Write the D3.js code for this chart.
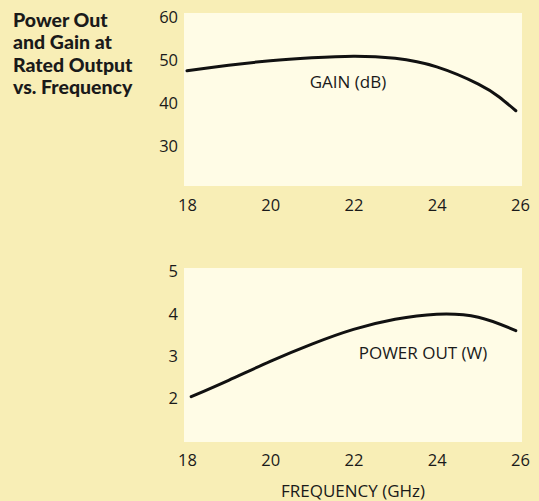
<!DOCTYPE html>
<html>
<head>
<meta charset="utf-8">
<title>Power Out and Gain vs. Frequency</title>
<script src="https://cdn.jsdelivr.net/npm/d3@7"></script>
<style>
  body { margin: 0; background: #f8eeb6; }
  svg { display: block; }
  text { font-family: "Open Sans", Lato, sans-serif; fill: #1a1a1a; }
</style>
</head>
<body>
<script>
// data
var freqTicks = [18, 20, 22, 24, 26];
var gainTicks = [30, 40, 50, 60];
var powerTicks = [2, 3, 4, 5];

var gainFreq  = [18, 19, 20, 21, 22, 23, 24, 25, 25.5, 25.9];
var gainDb    = [47.5, 48.8, 49.8, 50.5, 50.9, 50.4, 48.4, 44.4, 41.4, 38.2];

var powerFreq = [18.1, 19, 20, 21, 22, 23, 24, 25, 25.9];
var powerW    = [2.03, 2.42, 2.87, 3.28, 3.63, 3.87, 3.99, 3.92, 3.6];

var titleLines = ["Power Out", "and Gain at", "Rated Output", "vs. Frequency"];

var W = 539, H = 501;
var svg = d3.select("body").append("svg").attr("width", W).attr("height", H);

svg.append("rect").attr("width", W).attr("height", H).attr("fill", "#f8eeb6");

// title block
svg.append("g").selectAll("text")
    .data(titleLines)
    .enter().append("text")
    .attr("x", 13)
    .attr("y", function(d, i) { return 20 + i * 22.4; })
    .attr("dy", "0.35em")
    .style("font-family", "Lato, sans-serif")
    .style("font-weight", "900")
    .style("font-size", "19.5px")
    .text(function(d) { return d; });

var x = d3.scaleLinear().domain([18, 26]).range([187, 520]);

function panel(top, bottom, yDomain, yRange, yTicks, xLabelY, fx, fy, label, lx, ly) {
  var y = d3.scaleLinear().domain(yDomain).range(yRange);

  svg.append("rect")
     .attr("x", 184).attr("y", top)
     .attr("width", 522 - 184).attr("height", bottom - top)
     .attr("fill", "#fffce6");

  var ya = svg.append("g")
     .attr("transform", "translate(178,0)")
     .call(d3.axisLeft(y).tickValues(yTicks).tickFormat(d3.format("d")).tickSize(0).tickPadding(0));
  ya.select(".domain").remove();
  ya.selectAll("text").style("font-size", "16.5px").attr("font-family", null);

  var xa = svg.append("g")
     .attr("transform", "translate(0," + xLabelY + ")")
     .call(d3.axisBottom(x).tickValues(freqTicks).tickSize(0).tickPadding(0));
  xa.select(".domain").remove();
  xa.selectAll("text").attr("dy", "0.35em").style("font-size", "16.5px").attr("font-family", null);

  var line = d3.line()
     .x(function(d, i) { return x(fx[i]); })
     .y(function(d) { return y(d); })
     .curve(d3.curveNatural);

  svg.append("path")
     .datum(fy)
     .attr("d", line)
     .attr("fill", "none")
     .attr("stroke", "#111")
     .attr("stroke-width", 3)
     .attr("stroke-linecap", "round");

  svg.append("text")
     .attr("x", lx).attr("y", ly)
     .attr("dy", "0.35em")
     .attr("text-anchor", "middle")
     .style("font-size", "17px")
     .text(label);
}

panel(13, 186, [60, 30], [17, 146], gainTicks, 205, gainFreq, gainDb, "GAIN (dB)", 348, 82);
panel(268, 442, [5, 2], [271.7, 398], powerTicks, 460, powerFreq, powerW, "POWER OUT (W)", 423, 353);

svg.append("text")
   .attr("x", 353).attr("y", 491)
   .attr("dy", "0.35em")
   .attr("text-anchor", "middle")
   .style("font-size", "17px")
   .text("FREQUENCY (GHz)");
</script>
</body>
</html>
